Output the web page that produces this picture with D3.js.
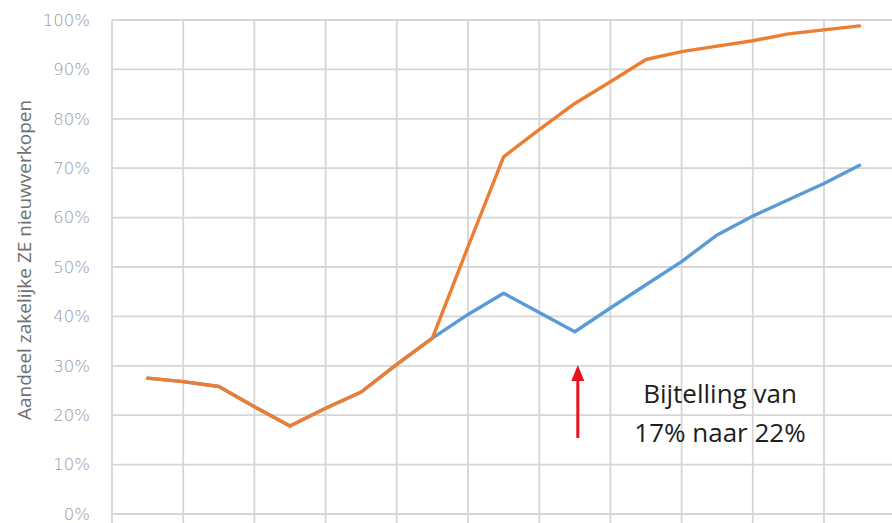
<!DOCTYPE html>
<html>
<head>
<meta charset="utf-8">
<script src="https://cdn.jsdelivr.net/npm/d3@7/dist/d3.min.js"></script>
<style>
  html, body { margin: 0; padding: 0; background: #fff; }
  svg { display: block; }
</style>
</head>
<body>
<svg id="chart" width="892" height="523"></svg>
<script>
// ---- Data ----
const years = [2020,2021,2022,2023,2024,2025,2026,2027,2028,2029,2030,2031,2032,2033,2034,2035,2036,2037,2038,2039,2040];
const zonderVerhoging = [27.5,26.8,25.8,21.7,17.8,21.4,24.7,30.3,35.6,54.1,72.3,77.8,83.1,87.5,92.0,93.6,94.7,95.8,97.2,98.0,98.8];
const metVerhoging    = [27.5,26.8,25.8,21.7,17.8,21.4,24.7,30.3,35.6,40.4,44.7,40.8,36.9,41.7,46.4,51.1,56.5,60.3,63.6,66.9,70.6];
const yTicks = [0,10,20,30,40,50,60,70,80,90,100];
const yTitle = "Aandeel zakelijke ZE nieuwverkopen";
const annotationLines = ["Bijtelling van", "17% naar 22%"];
const annotationYear = 2032;

// ---- Layout ----
const svg = d3.select("#chart");
const plotLeft = 112, plotTop = 20, plotBottom = 514;
const slotCount = years.length + 1; // category slots (positions 1..n)
const x = d3.scaleLinear().domain([0, slotCount]).range([plotLeft, plotLeft + 35.6 * slotCount]);
const y = d3.scaleLinear().domain([0, 100]).range([plotBottom, plotTop]);
const xOf = yr => x(years.indexOf(yr) + 1);

// gridlines
const grid = svg.append("g");
grid.selectAll("line.h").data(yTicks).join("line")
  .attr("x1", plotLeft).attr("x2", 892)
  .attr("y1", d => y(d)).attr("y2", d => y(d))
  .attr("stroke", "#d6d6d6").attr("stroke-width", 1.8);
const vTicks = d3.range(0, slotCount + 1, 2);
grid.selectAll("line.v").data(vTicks).join("line")
  .attr("x1", d => x(d)).attr("x2", d => x(d))
  .attr("y1", y(100)).attr("y2", 523)
  .attr("stroke", "#d6d6d6").attr("stroke-width", 1.8);

// y axis labels
const yAxis = d3.axisLeft(y).tickValues(yTicks).tickFormat(d => d + "%").tickSize(0).tickPadding(0);
const yg = svg.append("g").attr("transform", "translate(90,0)").call(yAxis);
yg.select(".domain").remove();
yg.selectAll("text")
  .attr("fill", "#9a9a9a")
  .style("font-family", "'DejaVu Sans', sans-serif")
  .style("font-weight", "200")
  .style("font-size", "16.5px");

// y title
svg.append("text")
  .attr("transform", `translate(31,${(plotTop + plotBottom) / 2 - 7}) rotate(-90)`)
  .attr("text-anchor", "middle")
  .attr("fill", "#707070")
  .style("font-family", "'Open Sans', sans-serif")
  .style("font-size", "19px")
  .text(yTitle);

// lines
const line = d3.line().x((d, i) => x(i + 1)).y(d => y(d));
svg.append("path").datum(metVerhoging)
  .attr("d", line).attr("fill", "none")
  .attr("stroke", "#5B9BD5").attr("stroke-width", 3.4)
  .attr("stroke-linejoin", "round").attr("stroke-linecap", "round");
svg.append("path").datum(zonderVerhoging)
  .attr("d", line).attr("fill", "none")
  .attr("stroke", "#ED7D31").attr("stroke-width", 3.4)
  .attr("stroke-linejoin", "round").attr("stroke-linecap", "round");

// arrow
const ax = xOf(annotationYear) + 3;
svg.append("line")
  .attr("x1", ax).attr("x2", ax)
  .attr("y1", 438).attr("y2", 378)
  .attr("stroke", "#e8131b").attr("stroke-width", 3);
svg.append("path")
  .attr("d", d3.line()([[ax - 6.5, 381], [ax, 365], [ax + 6.5, 381]]) + "Z")
  .attr("fill", "#e8131b");

// annotation text
const ann = svg.append("text")
  .attr("text-anchor", "middle")
  .attr("fill", "#1e1e1e")
  .style("font-family", "'Open Sans', sans-serif")
  .style("font-size", "26px");
annotationLines.forEach((t, i) => {
  ann.append("tspan").attr("x", 720).attr("y", 403 + i * 39).text(t);
});
</script>
</body>
</html>
